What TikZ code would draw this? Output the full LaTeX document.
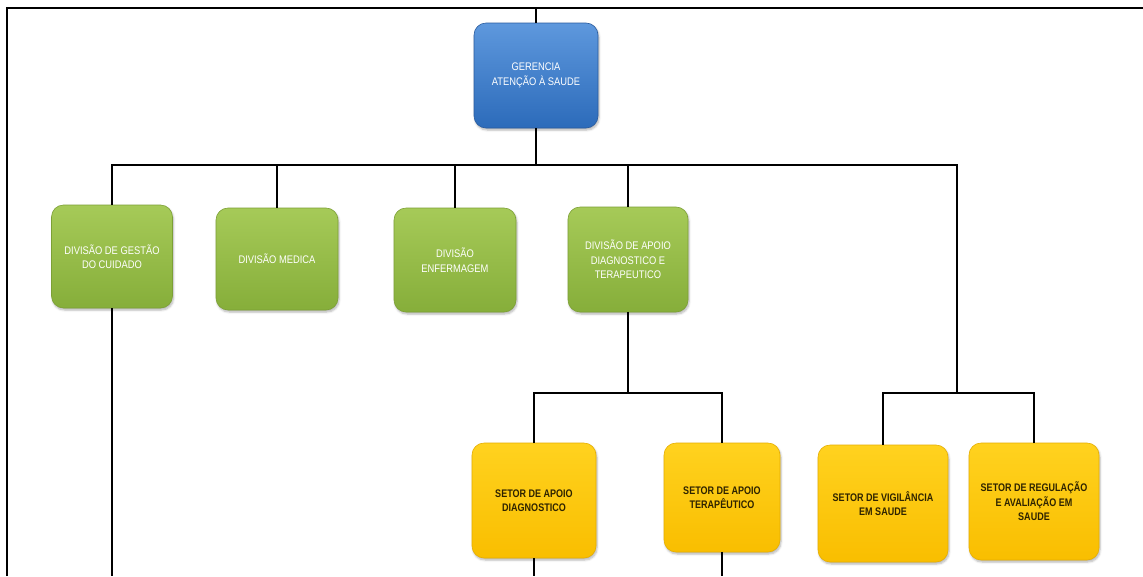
\documentclass[tikz,border=0pt]{standalone}
\usepackage{fontspec}
\setmainfont{Liberation Sans}
\newfontfamily\boxfont[FakeStretch=0.85]{Liberation Sans}
\newfontfamily\sectorfont[FakeStretch=0.82]{Liberation Sans}
\usetikzlibrary{shadows.blur}

\definecolor{blueTop}{HTML}{5E98DD}
\definecolor{blueBot}{HTML}{2C6BBA}
\definecolor{blueEdge}{HTML}{2A5C9F}
\definecolor{greenTop}{HTML}{A6CA58}
\definecolor{greenBot}{HTML}{86AE3A}
\definecolor{greenEdge}{HTML}{7CA035}
\definecolor{yellowTop}{HTML}{FFD21F}
\definecolor{yellowBot}{HTML}{F9BE00}
\definecolor{yellowEdge}{HTML}{E6AE00}
\definecolor{yellowText}{HTML}{2E2300}

\begin{document}
\begin{tikzpicture}[x=1pt,y=-1pt,
  unit/.style={rounded corners=12pt, inner sep=0pt, align=center,
    font=\boxfont\fontsize{11}{14.5}\selectfont,
    blur shadow={shadow xshift=1pt, shadow yshift=-2pt, shadow blur steps=5, shadow opacity=30}},
  management/.style={unit, draw=blueEdge, line width=0.6pt, top color=blueTop, bottom color=blueBot, text=white},
  division/.style={unit, draw=greenEdge, line width=0.6pt, top color=greenTop, bottom color=greenBot, text=white},
  sector/.style={unit, draw=yellowEdge, line width=0.6pt, top color=yellowTop, bottom color=yellowBot,
    text=yellowText, font=\sectorfont\bfseries\fontsize{11}{14.5}\selectfont},
  link/.style={draw=black, line width=1.8pt, line join=miter},
  frame/.style={draw=black, line width=2.4pt}]

\useasboundingbox (0,0) rectangle (1143,576);

% outer frame (top and left edges)
\coordinate (fTL) at (7,8);
\coordinate (fTR) at (1143,8);
\coordinate (fBL) at (7,576);
\draw[frame] (fBL) -- (fTL) -- (fTR);

% boxes
\node[management, minimum width=124pt, minimum height=105pt] (ger) at (536,75.5)
  {GERENCIA\\ATENÇÃO À SAUDE};

\node[division, minimum width=121pt, minimum height=103pt] (g1) at (112,256.5)
  {DIVISÃO DE GESTÃO\\DO CUIDADO};
\node[division, minimum width=122pt, minimum height=102pt] (g2) at (277,259)
  {DIVISÃO MEDICA};
\node[division, minimum width=122pt, minimum height=104pt] (g3) at (455,260)
  {DIVISÃO\\ENFERMAGEM};
\node[division, minimum width=120pt, minimum height=105pt] (g4) at (628,259.5)
  {DIVISÃO DE APOIO\\DIAGNOSTICO E\\TERAPEUTICO};

\node[sector, minimum width=124pt, minimum height=115pt] (y1) at (534,500.5)
  {SETOR DE APOIO\\DIAGNOSTICO};
\node[sector, minimum width=116pt, minimum height=109pt] (y2) at (722,497.5)
  {SETOR DE APOIO\\TERAPÊUTICO};
\node[sector, minimum width=130pt, minimum height=117pt] (y3) at (883,503.5)
  {SETOR DE VIGILÂNCIA\\EM SAUDE};
\node[sector, minimum width=130pt, minimum height=117pt] (y4) at (1034,501.5)
  {SETOR DE REGULAÇÃO\\E AVALIAÇÃO EM\\SAUDE};

% bus lines
\coordinate (busA) at (112,165);
\coordinate (busB) at (957,165);
\coordinate (busC) at (534,393);
\coordinate (busD) at (722,393);
\coordinate (busE) at (883,393);
\coordinate (busF) at (1034,393);
\coordinate (bottom) at (0,576);

% connectors
\draw[link] (ger.north) -- (ger.north |- fTL);
\draw[link] (ger.south) -- (ger.south |- busA);
\draw[link] (g1.north) -- (busA) -- (busB) -- (busB |- busE);
\draw[link] (g2.north |- busA) -- (g2.north);
\draw[link] (g3.north |- busA) -- (g3.north);
\draw[link] (g4.north |- busA) -- (g4.north);
\draw[link] (g1.south) -- (g1.south |- bottom);

\draw[link] (g4.south) -- (g4.south |- busC);
\draw[link] (y1.north) -- (busC) -- (busD) -- (y2.north);
\draw[link] (y1.south) -- (y1.south |- bottom);
\draw[link] (y2.south) -- (y2.south |- bottom);

\draw[link] (y3.north) -- (busE) -- (busF) -- (y4.north);
\end{tikzpicture}
\end{document}
